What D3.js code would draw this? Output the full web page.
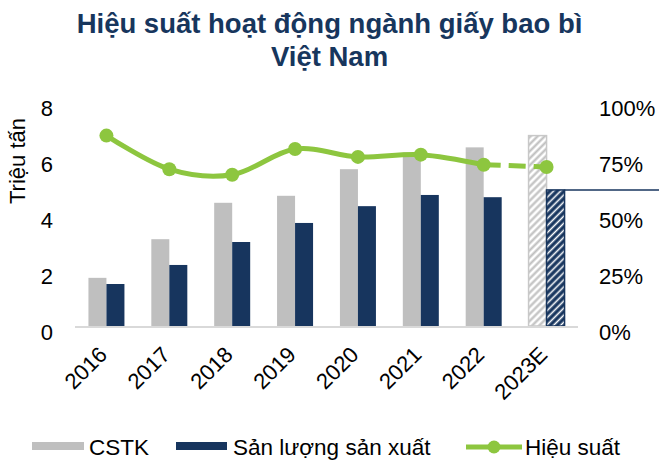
<!DOCTYPE html>
<html>
<head>
<meta charset="utf-8">
<script src="https://cdn.jsdelivr.net/npm/d3@7/dist/d3.min.js"></script>
<style>
  body { margin: 0; background: #fff; }
  text { font-family: "Liberation Sans", Arial, sans-serif; }
</style>
</head>
<body>
<div id="wrapper"></div>
<script>
// data
const years = ["2016", "2017", "2018", "2019", "2020", "2021", "2022", "2023E"]
const capacity = [1.72, 3.1, 4.4, 4.65, 5.6, 6.2, 6.38, 6.8]     // CSTK, triệu tấn
const output = [1.5, 2.18, 3.0, 3.68, 4.28, 4.68, 4.6, 4.86]     // Sản lượng sản xuất
const efficiency = [0.85, 0.70, 0.675, 0.79, 0.755, 0.765, 0.72, 0.71] // Hiệu suất
const leftTicks = [0, 2, 4, 6, 8]
const rightTicks = [0, 0.25, 0.5, 0.75, 1]
const titleLines = ["Hiệu suất hoạt động ngành giấy bao bì", "Việt Nam"]
const legendItems = ["CSTK", "Sản lượng sản xuất", "Hiệu suất"]

const colors = { gray: "#bfbfbf", navy: "#17355e", green: "#8dc63f", axis: "#d9d9d9" }

function drawChart() {
  const width = 659, height = 461
  const baseY = 326, topY = 102
  const barW = 18

  const svg = d3.select("#wrapper").append("svg")
    .attr("width", width)
    .attr("height", height)

  // hatch patterns for the estimate year
  const defs = svg.append("defs")
  const grayHatch = defs.append("pattern")
    .attr("id", "hatchGray")
    .attr("patternUnits", "userSpaceOnUse")
    .attr("width", 5).attr("height", 5)
    .attr("patternTransform", "rotate(45)")
  grayHatch.append("rect").attr("width", 5).attr("height", 5).attr("fill", "#fff")
  grayHatch.append("line").attr("x1", 1.5).attr("y1", 0).attr("x2", 1.5).attr("y2", 5)
    .attr("stroke", colors.gray).attr("stroke-width", 2.2)

  const navyHatch = defs.append("pattern")
    .attr("id", "hatchNavy")
    .attr("patternUnits", "userSpaceOnUse")
    .attr("width", 5).attr("height", 5)
    .attr("patternTransform", "rotate(45)")
  navyHatch.append("rect").attr("width", 5).attr("height", 5).attr("fill", colors.navy)
  navyHatch.append("line").attr("x1", 1.5).attr("y1", 0).attr("x2", 1.5).attr("y2", 5)
    .attr("stroke", "#fff").attr("stroke-width", 1.6)

  // scales
  const xScale = d3.scaleBand()
    .domain(years)
    .range([75, 578])

  const yScale = d3.scaleLinear()
    .domain([0, 8])
    .range([baseY, topY])

  const pScale = d3.scaleLinear()
    .domain([0, 1])
    .range([baseY, topY])

  const cx = d => xScale(d) + xScale.bandwidth() / 2
  const isEst = d => d.endsWith("E")

  // title
  svg.append("g").selectAll("text")
    .data(titleLines)
    .join("text")
      .attr("x", width / 2)
      .attr("y", (d, i) => 33 + i * 33)
      .attr("text-anchor", "middle")
      .attr("font-size", 27.5)
      .attr("font-weight", "bold")
      .attr("fill", "#17365d")
      .text(d => d)

  // bars
  const rows = years.map((y, i) => ({ year: y, cap: capacity[i], out: output[i], eff: efficiency[i] }))

  svg.append("g").selectAll("rect")
    .data(rows)
    .join("rect")
      .attr("x", d => cx(d.year) - barW)
      .attr("y", d => yScale(d.cap))
      .attr("width", barW)
      .attr("height", d => baseY - yScale(d.cap))
      .attr("fill", d => isEst(d.year) ? "url(#hatchGray)" : colors.gray)
      .attr("stroke", d => isEst(d.year) ? "#c8c8c8" : "none")
      .attr("stroke-width", 1.5)

  svg.append("g").selectAll("rect")
    .data(rows)
    .join("rect")
      .attr("x", d => cx(d.year))
      .attr("y", d => yScale(d.out))
      .attr("width", barW)
      .attr("height", d => baseY - yScale(d.out))
      .attr("fill", d => isEst(d.year) ? "url(#hatchNavy)" : colors.navy)
      .attr("stroke", d => isEst(d.year) ? colors.navy : "none")
      .attr("stroke-width", 1.5)

  // stray navy line running off the last bar
  const last = rows[rows.length - 1]
  svg.append("line")
    .attr("x1", cx(last.year) + barW)
    .attr("x2", width)
    .attr("y1", yScale(last.out))
    .attr("y2", yScale(last.out))
    .attr("stroke", colors.navy)
    .attr("stroke-width", 1.5)

  // x axis line
  svg.append("line")
    .attr("x1", 75).attr("x2", 578)
    .attr("y1", baseY + 1).attr("y2", baseY + 1)
    .attr("stroke", colors.axis)
    .attr("stroke-width", 2)

  // efficiency line: solid actuals, dashed estimate
  const actual = rows.filter(d => !isEst(d.year))
  const estSeg = rows.slice(rows.length - 2)

  const lineGen = d3.line()
    .x(d => cx(d.year))
    .y(d => pScale(d.eff))

  svg.append("path")
    .attr("d", lineGen.curve(d3.curveCardinal.tension(0))(actual))
    .attr("fill", "none")
    .attr("stroke", colors.green)
    .attr("stroke-width", 5)

  svg.append("path")
    .attr("d", lineGen.curve(d3.curveLinear)(estSeg))
    .attr("fill", "none")
    .attr("stroke", colors.green)
    .attr("stroke-width", 5)
    .attr("stroke-dasharray", "17,8")

  svg.append("g").selectAll("circle")
    .data(rows)
    .join("circle")
      .attr("cx", d => cx(d.year))
      .attr("cy", d => pScale(d.eff))
      .attr("r", 7)
      .attr("fill", colors.green)

  // left axis
  const yAxis = svg.append("g")
    .attr("transform", "translate(53,0)")
    .call(d3.axisLeft(yScale).tickValues(leftTicks).tickSize(0).tickPadding(0))
  yAxis.select(".domain").remove()
  yAxis.selectAll("text")
    .attr("font-size", 22)
    .attr("fill", "#000")
    .attr("dy", "0.6em")
    .attr("font-family", "Liberation Sans, Arial, sans-serif")

  // right axis
  const rAxis = svg.append("g")
    .attr("transform", "translate(599,0)")
    .call(d3.axisRight(pScale).tickValues(rightTicks).tickFormat(d3.format(".0%")).tickSize(0).tickPadding(0))
  rAxis.select(".domain").remove()
  rAxis.selectAll("text")
    .attr("font-size", 22)
    .attr("fill", "#000")
    .attr("dy", "0.6em")
    .attr("font-family", "Liberation Sans, Arial, sans-serif")

  // y axis title
  svg.append("text")
    .attr("transform", "translate(25,161) rotate(-90)")
    .attr("text-anchor", "middle")
    .attr("font-size", 22)
    .text("Triệu tấn")

  // x labels, rotated
  svg.append("g").selectAll("text")
    .data(years)
    .join("text")
      .attr("transform", d => `translate(${cx(d) + 2},${baseY + 30}) rotate(-45)`)
      .attr("text-anchor", "end")
      .attr("font-size", 22)
      .text(d => d)

  // legend
  const legend = svg.append("g")
  legend.append("rect").attr("x", 32).attr("y", 442).attr("width", 52).attr("height", 8).attr("fill", colors.gray)
  legend.append("rect").attr("x", 176).attr("y", 442).attr("width", 51).attr("height", 8).attr("fill", colors.navy)
  legend.append("line").attr("x1", 466).attr("x2", 522).attr("y1", 447).attr("y2", 447)
    .attr("stroke", colors.green).attr("stroke-width", 5)
  legend.append("circle").attr("cx", 494).attr("cy", 447).attr("r", 6.5).attr("fill", colors.green)
  legend.selectAll("text")
    .data(legendItems)
    .join("text")
      .attr("x", (d, i) => [89, 233, 525][i])
      .attr("y", 455)
      .attr("font-size", 22.5)
      .text(d => d)
}
drawChart()
</script>
</body>
</html>
